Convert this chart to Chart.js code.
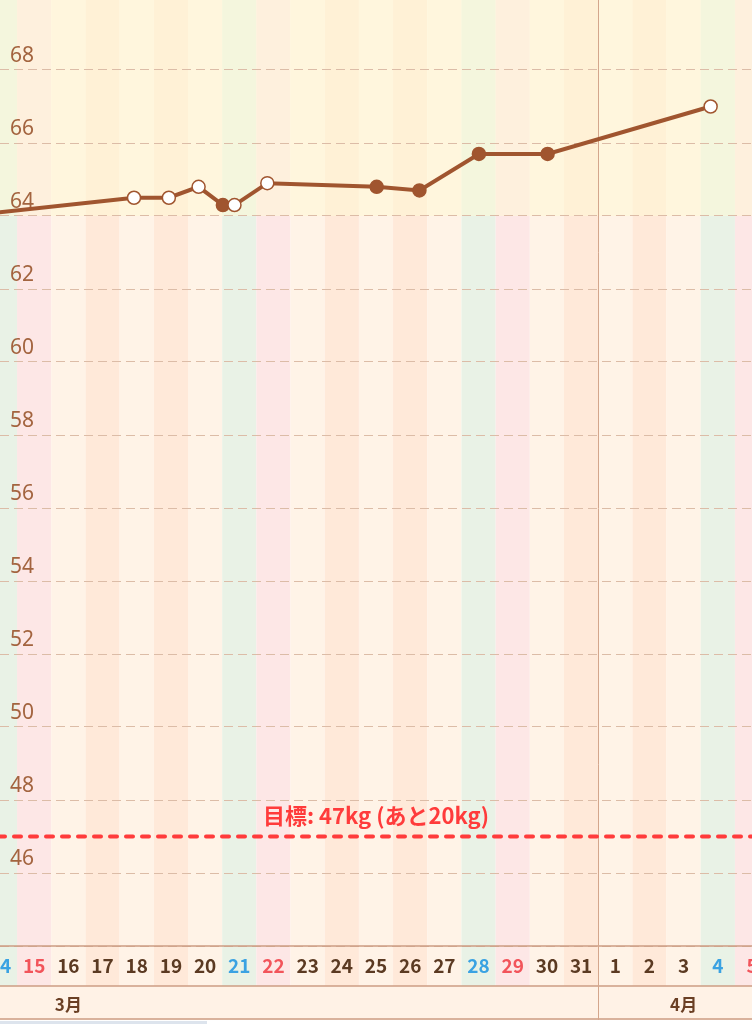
<!DOCTYPE html>
<html>
<head>
<meta charset="utf-8">
<script src="https://cdn.jsdelivr.net/npm/chart.js@4.4.1/dist/chart.umd.min.js"></script>
<style>
  html, body { margin: 0; padding: 0; background: #ffffff; }
  #page { position: relative; width: 752px; height: 1024px; overflow: hidden; background: #ffffff; }
  #wrap { position: absolute; left: 0; top: -3px; width: 752px; height: 1027px; }
  #strip { position: absolute; left: 0; top: 1021px; width: 207px; height: 3px; background: #dde4ed; }
</style>
</head>
<body>
<div id="page">
  <div id="wrap"><canvas id="c"></canvas></div>
  <div id="strip"></div>
</div>
<script>
// ---- data ----
const measureDays = [13.0, 17.92, 18.94, 19.81, 20.52, 20.86, 21.82, 25.02, 26.27, 28.01, 30.02, 34.79];
const weights     = [64.0, 64.5,  64.5,  64.8,  64.3,  64.3,  64.9,  64.8,  64.7,  65.7,  65.7,  67.0];
const openMarker  = [false, true, true,  true,  false, true,  true,  false, false, false, false, true];
const dayMin = 14, dayMax = 36;            // 3/14 .. 4/5
const daysInMarch = 31;
const monthLabels = ['3月', '4月'];
const monthLabelDays = [16, 34];
const monthBoundary = 31.5;
const yMin = 44, yMax = 70, yStep = 2;
const goalWeight = 47;
const goalLabel = '目標: 47kg (あと20kg)';
const upperBandMin = 64;
const firstWeekday = 6; // 3/14 is Saturday (0=Sun)

// ---- colours ----
const brown = '#a0552f';
const colSat = '#e9f2e6', colSun = '#fde7e6', colLight = '#fff3e7', colPeach = '#ffe9d9';
function dayColor(d) {
  const wd = (firstWeekday + (d - dayMin)) % 7;
  if (wd === 6) return colSat;
  if (wd === 0) return colSun;
  return (wd === 2 || wd === 4) ? colPeach : colLight;
}
function dayTextColor(d) {
  const wd = (firstWeekday + (d - dayMin)) % 7;
  if (wd === 6) return '#3aa2e2';
  if (wd === 0) return '#f2545b';
  return '#5b3a22';
}

const points = measureDays.map((d, i) => ({ x: d, y: weights[i] }));

const bgPlugin = {
  id: 'bg',
  beforeDraw(chart) {
    const { ctx, chartArea: ca, scales } = chart;
    const x = scales.x, y = scales.y, m = scales.month;
    ctx.save();
    for (let d = dayMin - 1; d <= dayMax + 1; d++) {
      const l = x.getPixelForValue(d - 0.5), r = x.getPixelForValue(d + 0.5);
      ctx.fillStyle = dayColor(d);
      ctx.fillRect(l, ca.top, r - l, x.bottom - ca.top);
    }
    const yb = y.getPixelForValue(upperBandMin);
    ctx.fillStyle = 'rgba(255,250,212,0.5)';
    ctx.fillRect(ca.left, ca.top, ca.width, yb - ca.top);
    ctx.fillStyle = '#fff2e6';
    ctx.fillRect(ca.left, m.top, ca.width, m.bottom - m.top);
    ctx.restore();
  },
  beforeDatasetsDraw(chart) {
    const { ctx, chartArea: ca, scales } = chart;
    const x = scales.x, y = scales.y, m = scales.month;
    ctx.save();
    ctx.strokeStyle = '#cc9d83';
    ctx.lineWidth = 1.5;
    [ca.bottom, x.bottom, m.bottom - 1].forEach(py => {
      ctx.beginPath(); ctx.moveTo(ca.left, py); ctx.lineTo(ca.right, py); ctx.stroke();
    });
    const xb = Math.round(x.getPixelForValue(monthBoundary)) + 0.5;
    ctx.strokeStyle = '#d4a68c';
    ctx.lineWidth = 1;
    ctx.beginPath(); ctx.moveTo(xb, 0); ctx.lineTo(xb, m.bottom); ctx.stroke();
    // goal line
    const gy = y.getPixelForValue(goalWeight);
    ctx.strokeStyle = '#ff3b3b';
    ctx.lineWidth = 4;
    ctx.lineCap = 'round';
    ctx.setLineDash([7, 9]);
    ctx.beginPath(); ctx.moveTo(ca.left - 2, gy); ctx.lineTo(ca.right + 2, gy); ctx.stroke();
    ctx.setLineDash([]);
    ctx.fillStyle = '#ff3b3b';
    ctx.font = 'bold 22px "Noto Sans CJK JP", "Noto Sans", sans-serif';
    ctx.textAlign = 'center';
    ctx.textBaseline = 'middle';
    ctx.fillText(goalLabel, (ca.left + ca.right) / 2, gy - 21);
    ctx.restore();
  }
};

new Chart(document.getElementById('c'), {
  type: 'line',
  data: {
    datasets: [{
      data: points,
      borderColor: brown,
      borderWidth: 4,
      tension: 0,
      pointRadius: 6.5,
      pointHoverRadius: 6.5,
      pointBorderWidth: 1.5,
      pointBorderColor: brown,
      pointBackgroundColor: openMarker.map(o => o ? '#ffffff' : brown)
    }]
  },
  options: {
    responsive: true,
    maintainAspectRatio: false,
    animation: false,
    events: [],
    layout: { autoPadding: false, padding: { left: 0, right: 0, top: 0, bottom: 4 } },
    plugins: { legend: { display: false }, tooltip: { enabled: false } },
    scales: {
      x: {
        type: 'linear', position: 'bottom', weight: 0,
        min: dayMin, max: dayMax,
        grid: { display: false }, border: { display: false },
        ticks: {
          stepSize: 1, autoSkip: false, maxRotation: 0, padding: 0,
          font: { size: 19, weight: '600', family: '"Noto Sans CJK JP", "Noto Sans", sans-serif' },
          color: (c) => dayTextColor(c.tick.value),
          callback: (v) => v > daysInMarch ? String(v - daysInMarch) : String(v)
        },
        afterFit: (s) => { s.height = 40; s.paddingLeft = 0; s.paddingRight = 0; }
      },
      month: {
        type: 'linear', position: 'bottom', weight: 1,
        min: dayMin, max: dayMax,
        grid: { display: false }, border: { display: false },
        afterBuildTicks: (s) => { s.ticks = monthLabelDays.map(v => ({ value: v })); },
        ticks: {
          autoSkip: false, maxRotation: 0, padding: 0,
          font: { size: 17, weight: 'bold', family: '"Noto Sans CJK JP", "Noto Sans", sans-serif' },
          color: '#6a3f24',
          callback: (v) => monthLabels[monthLabelDays.indexOf(v)]
        },
        afterFit: (s) => { s.height = 34; s.paddingLeft = 0; s.paddingRight = 0; }
      },
      y: {
        type: 'linear', position: 'left',
        min: yMin, max: yMax,
        border: { display: false, dash: [9, 5] },
        grid: { color: '#dcbca7', lineWidth: 1, drawTicks: false },
        ticks: {
          stepSize: yStep, mirror: true, padding: 10, labelOffset: -14,
          font: { size: 21, family: '"Noto Sans", "Noto Sans CJK JP", sans-serif' },
          color: '#a3643f',
          callback: (v) => (v === yMin || v === yMax) ? '' : String(v)
        },
        afterFit: (s) => { s.width = 0; s.paddingTop = 0; s.paddingBottom = 0; }
      }
    }
  },
  plugins: [bgPlugin]
});
</script>
</body>
</html>
